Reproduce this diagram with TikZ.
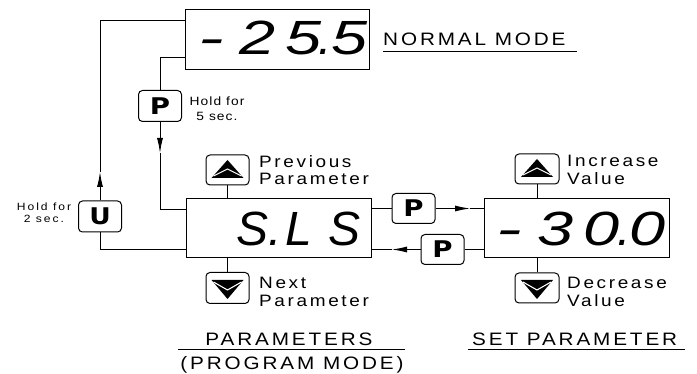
\documentclass[tikz,border=0pt]{standalone}
\usepackage{fontspec}
\usepackage{graphicx}
\setmainfont{Liberation Sans}
\newfontfamily\lbl{Liberation Sans}[FakeStretch=1.15, LetterSpace=16]
\newfontfamily\lblA{Liberation Sans}[FakeStretch=1.15, LetterSpace=9]
\newfontfamily\lblB{Liberation Sans}[FakeStretch=1.15, LetterSpace=19]
\newfontfamily\dgt{Liberation Sans}
\newfontfamily\btnfont{DejaVu Sans}
\usetikzlibrary{arrows.meta}
\newcommand\segc[2][1.35]{\makebox[46pt][c]{\scalebox{#1}[1]{#2}}}
\newcommand\segdot{\makebox[0pt][c]{\hspace*{-2pt}.}}
\tikzset{
  disp/.style={draw, line width=1pt, minimum width=184pt, minimum height=60pt, inner sep=0pt},
  digits/.style={inner sep=0pt, font=\dgt\itshape\fontsize{48}{48}\selectfont},
  btn/.style={draw, line width=1pt, rounded corners=4pt, minimum width=43pt, minimum height=31pt, inner sep=0pt,
     font=\btnfont\bfseries\fontsize{23}{23}\selectfont},
  conn/.style={line width=0.9pt},
  arr/.style={line width=0.9pt, -{Latex[length=15pt,width=6pt]}},
  lab/.style={inner sep=0pt, font=\lbl\fontsize{16.5}{17.5}\selectfont, align=left},
  head/.style={inner sep=0pt, font=\lbl\fontsize{18}{18}\selectfont},
  hold/.style={inner sep=0pt, align=center},
}
\begin{document}
\begin{tikzpicture}[x=1pt,y=-1pt]
\useasboundingbox[fill=white] (0,0) rectangle (697,374);

% displays
\node[disp] (T) at (277.5,39.5) {};
\node[disp, minimum width=185pt, minimum height=59pt] (S) at (278.5,228.5) {};
\node[disp, minimum width=185pt, minimum height=59pt] (R) at (576.5,228.5) {};

\node[digits, anchor=west] (Td) at ([xshift=3pt,yshift=2pt]T.west) {\segc[1.6]{-}\segc{2}\segc{5}\segdot\segc{5}};
\node[digits, anchor=west] (Sd) at ([xshift=-2pt]S.west) {\segc{}\segc[1.0]{S}\segdot\segc[1.0]{L}\segc[1.0]{S}};
\node[digits, anchor=west] (Rd) at ([xshift=3pt]R.west) {\segc[1.6]{-}\segc{3}\segc{0}\segdot\segc{0}};

% P and U buttons
\node[btn] (U) at (100,216.5) {\scalebox{1.15}[1]{U}};
\node[btn] (P5) at (160,106) {\scalebox{1.2}[1]{P}};
\node[btn, minimum height=30pt] (PA) at (413.5,208.5) {\scalebox{1.2}[1]{P}};
\node[btn, minimum height=30pt] (PB) at (442.5,249.5) {\scalebox{1.2}[1]{P}};

% arrow buttons
\node[btn, minimum height=30pt] (SU) at (227.5,170) {};
\node[btn] (SD) at (227.5,288) {};
\node[btn, minimum width=44pt, minimum height=30pt] (RU) at (537,169) {};
\node[btn, minimum width=44pt, minimum height=30pt] (RD) at (537,288) {};

\foreach \b in {SU,RU}{
  \fill ([shift={(0,-10)}]\b.center) -- ++(16,18) -- ++(-32,0) -- cycle;
  \draw[white, line width=1.1pt] ([shift={(-14,6)}]\b.center) -- ++(14,-7) -- ++(14,7);
}
\foreach \b in {SD,RD}{
  \fill ([shift={(0,11)}]\b.center) -- ++(16,-19) -- ++(-32,0) -- cycle;
  \draw[white, line width=1.1pt] ([shift={(-14,-6)}]\b.center) -- ++(14,8) -- ++(14,-8);
}

\draw[conn] (SU.south) -- (SU.south |- S.north);
\draw[conn] (SD.north) -- (SD.north |- S.south);
\draw[conn] (RU.south) -- (RU.south |- R.north);
\draw[conn] (RD.north) -- (RD.north |- R.south);

% left loop (U)
\coordinate (c1) at (100,249);
\coordinate (a1) at (100,172);
\coordinate (c2) at (100,20);
\draw[conn] (S.west |- c1) -- (c1) -- (U.south);
\draw[arr] (U.north) -- (a1);
\draw[conn] (a1) -- (c2) -- (T.west |- c2);

% P hold 5 sec
\coordinate (c3) at (160,57);
\coordinate (a2) at (160,153);
\coordinate (c4) at (160,209);
\draw[conn] (T.west |- c3) -- (c3) -- (P5.north);
\draw[arr] (P5.south) -- (a2);
\draw[conn] (a2) -- (c4) -- (S.west |- c4);

% P between S and R
\coordinate (a3) at (470,208.5);
\draw[conn] (S.east |- PA.west) -- (PA.west);
\draw[arr] (PA.east) -- (a3);
\draw[conn] (a3) -- (R.west |- a3);
\coordinate (a4) at (392,249.5);
\draw[conn] (R.west |- PB.east) -- (PB.east);
\draw[arr] (PB.west) -- (a4);
\draw[conn] (a4) -- (S.east |- a4);

% labels
\node[head, anchor=base west] (NM) at (383,46) {NORMAL MODE};
\draw[line width=1pt] ([yshift=-6pt]NM.base west) -- ++(194,0);

\node[hold, anchor=north, font=\lblA\fontsize{12}{15}\selectfont] (H5) at (217,97) {Hold for\\5 sec.};
\node[hold, anchor=north, font=\lblB\fontsize{10.5}{11.5}\selectfont] (H2) at (44,203) {Hold for\\2 sec.};

\node[lab, anchor=north west] (Lp) at (259,155) {Previous\\Parameter};
\node[lab, anchor=north west] (Ln) at (259,277) {Next\\Parameter};
\node[lab, anchor=north west] (Li) at (567,155) {Increase\\Value};
\node[lab, anchor=north west] (Ld) at (567,277) {Decrease\\Value};

\node[head, anchor=base] (PAR) at (289,346) {PARAMETERS};
\node[head, anchor=base] (PM) at (292,370) {(PROGRAM MODE)};
\draw[line width=1pt] (178,350) -- (405,350);

\node[head, anchor=base west] (SP) at (472,346) {SET PARAMETER};
\draw[line width=1pt] ([yshift=-4pt]SP.base west) ++(-4,0) -- ++(217,0);
\end{tikzpicture}
\end{document}
